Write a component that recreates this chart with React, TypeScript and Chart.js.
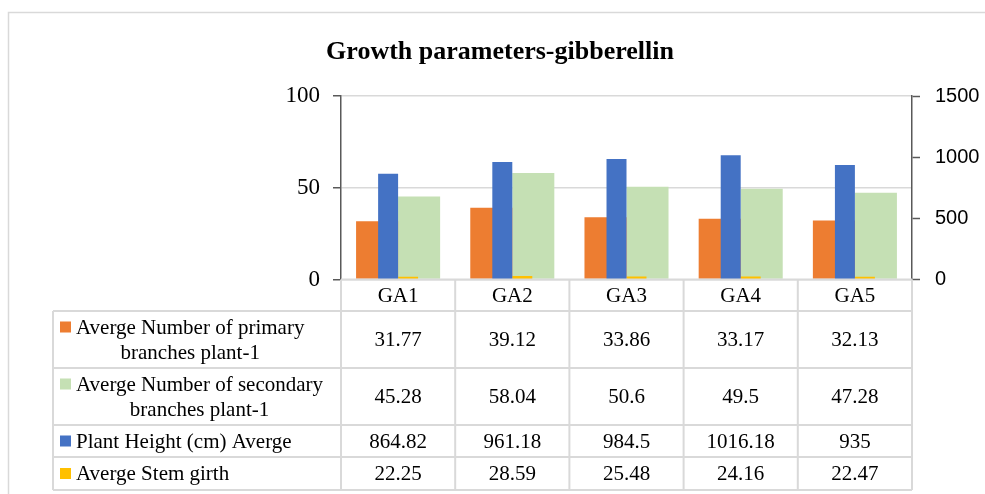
import React, { useEffect, useRef } from "react";
import { Chart, registerables } from "chart.js";

Chart.register(...registerables);

const chartTitle = "Growth parameters-gibberellin";
const categories = ["GA1", "GA2", "GA3", "GA4", "GA5"];
const primaryBranches = [31.77, 39.12, 33.86, 33.17, 32.13];
const secondaryBranches = [45.28, 58.04, 50.6, 49.5, 47.28];
const plantHeight = [864.82, 961.18, 984.5, 1016.18, 935];
const stemGirth = [22.25, 28.59, 25.48, 24.16, 22.47];
const primaryLabel = ["Averge Number of primary", "branches plant-1"];
const secondaryLabel = ["Averge Number of secondary", "branches plant-1"];
const heightLabel = ["Plant Height (cm) Averge"];
const girthLabel = ["Averge Stem girth"];
const leftAxisRange = [0, 100];
const leftAxisStep = 50;
const rightAxisRange = [0, 1500];
const rightAxisStep = 500;

const ORANGE = "#ED7D31";
const GREEN = "#C5E0B4";
const BLUE = "#4472C4";
const YELLOW = "#FFC000";
const GRID = "#d9d9d9";
const AXIS = "#595959";
const SERIF = "'Liberation Serif', 'Times New Roman', serif";
const SANS = "'Liberation Sans', Arial, sans-serif";

const tableRows = [
  { lines: primaryLabel, color: ORANGE, values: primaryBranches },
  { lines: secondaryLabel, color: GREEN, values: secondaryBranches },
  { lines: heightLabel, color: BLUE, values: plantHeight },
  { lines: girthLabel, color: YELLOW, values: stemGirth },
];

// layout constants (pixels)
const ROW_EDGES = [311, 368, 425, 457, 490];
const TABLE_LEFT = 53;
const LEGEND_TEXT_LEFT = 76;
const MARKER_SIZE = 11;

const tablePlugin = {
  id: "dataTable",
  beforeDraw(chart: any) {
    const ctx = chart.ctx;
    ctx.save();
    ctx.fillStyle = "#ffffff";
    ctx.fillRect(0, 0, chart.width, chart.height);
    ctx.strokeStyle = GRID;
    ctx.lineWidth = 1.5;
    ctx.beginPath();
    ctx.moveTo(8.5, chart.height + 2);
    ctx.lineTo(8.5, 12.5);
    ctx.lineTo(chart.width + 2, 12.5);
    ctx.stroke();
    // title
    ctx.fillStyle = "#000000";
    ctx.font = `bold 26px ${SERIF}`;
    ctx.textAlign = "center";
    ctx.textBaseline = "alphabetic";
    ctx.fillText(chartTitle, 500, 59);
    ctx.restore();
  },
  afterDraw(chart: any) {
    const ctx = chart.ctx;
    const area = chart.chartArea;
    const xs = chart.scales.x;
    const n = categories.length;
    const colW = (area.right - area.left) / n;
    const top = area.bottom;
    const bottom = ROW_EDGES[ROW_EDGES.length - 1];
    ctx.save();
    ctx.strokeStyle = GRID;
    ctx.lineWidth = 2;
    ctx.beginPath();
    ctx.moveTo(area.left, top);
    ctx.lineTo(area.right, top);
    for (const y of ROW_EDGES) {
      ctx.moveTo(TABLE_LEFT, y);
      ctx.lineTo(area.right, y);
    }
    ctx.moveTo(TABLE_LEFT, ROW_EDGES[0]);
    ctx.lineTo(TABLE_LEFT, bottom);
    for (let i = 0; i <= n; i++) {
      const x = area.left + i * colW;
      ctx.moveTo(x, top);
      ctx.lineTo(x, bottom);
    }
    ctx.stroke();

    ctx.fillStyle = "#000000";
    ctx.font = `21px ${SERIF}`;
    ctx.textAlign = "center";
    ctx.textBaseline = "middle";
    categories.forEach((c, i) => {
      ctx.fillText(c, xs.getPixelForValue(i), (top + ROW_EDGES[0]) / 2 + 1);
    });
    tableRows.forEach((row, r) => {
      const y0 = ROW_EDGES[r];
      const y1 = ROW_EDGES[r + 1];
      const cy = (y0 + y1) / 2 + 1;
      row.values.forEach((v, i) => {
        ctx.textAlign = "center";
        ctx.fillText(String(v), xs.getPixelForValue(i), cy);
      });
      const lh = 25;
      const widths = row.lines.map((l) => ctx.measureText(l).width);
      const maxW = Math.max(...widths);
      const centerX = LEGEND_TEXT_LEFT + maxW / 2;
      const firstY = cy - ((row.lines.length - 1) * lh) / 2;
      row.lines.forEach((l, k) => {
        ctx.textAlign = "center";
        ctx.fillText(l, centerX, firstY + k * lh);
      });
      const firstLineLeft = centerX - widths[0] / 2;
      ctx.fillStyle = row.color;
      ctx.fillRect(firstLineLeft - 16, firstY - MARKER_SIZE / 2 - 1, MARKER_SIZE, MARKER_SIZE);
      ctx.fillStyle = "#000000";
    });
    ctx.restore();
  },
};

export default function App() {
  const ref = useRef<HTMLCanvasElement | null>(null);
  useEffect(() => {
    if (!ref.current) return;
    const chart = new Chart(ref.current, {
      type: "bar",
      data: {
        labels: categories,
        datasets: [
          {
            label: primaryLabel.join(" "),
            data: primaryBranches,
            backgroundColor: ORANGE,
            yAxisID: "y",
            stack: "L",
            order: 1,
            categoryPercentage: 0.736,
            barPercentage: 1,
          },
          {
            label: secondaryLabel.join(" "),
            data: secondaryBranches,
            backgroundColor: GREEN,
            yAxisID: "y",
            stack: "R",
            order: 1,
            categoryPercentage: 0.736,
            barPercentage: 1,
          },
          {
            label: heightLabel.join(" "),
            data: plantHeight,
            backgroundColor: BLUE,
            yAxisID: "y1",
            stack: "L",
            order: 0,
            categoryPercentage: 0.35,
            barPercentage: 1,
          },
          {
            label: girthLabel.join(" "),
            data: stemGirth,
            backgroundColor: YELLOW,
            yAxisID: "y1",
            stack: "R",
            order: 0,
            categoryPercentage: 0.35,
            barPercentage: 1,
          },
        ] as any,
      },
      options: {
        animation: false,
        responsive: true,
        maintainAspectRatio: false,
        layout: { padding: { left: 0, right: 0, top: 96, bottom: 494 - 279.5 } },
        plugins: {
          legend: { display: false },
          tooltip: { enabled: false },
          title: { display: false },
        },
        scales: {
          x: { type: "category", display: false, offset: true, stacked: true },
          y: {
            type: "linear",
            position: "left",
            stacked: false,
            min: leftAxisRange[0],
            max: leftAxisRange[1],
            afterFit: (s: any) => {
              s.width = 341;
            },
            ticks: {
              stepSize: leftAxisStep,
              color: "#000000",
              font: { family: SERIF, size: 23 },
              padding: 13,
              callback: (v: any) => String(v),
            },
            grid: {
              color: GRID,
              lineWidth: 1.5,
              tickColor: AXIS,
              tickLength: 8,
              tickWidth: 1.5,
            },
            border: { color: AXIS, width: 1.5 },
          },
          y1: {
            type: "linear",
            position: "right",
            stacked: false,
            min: rightAxisRange[0],
            max: rightAxisRange[1],
            afterFit: (s: any) => {
              s.width = 73;
            },
            ticks: {
              stepSize: rightAxisStep,
              color: "#000000",
              font: { family: SANS, size: 20 },
              padding: 15,
              callback: (v: any) => String(v),
            },
            grid: {
              drawOnChartArea: false,
              tickColor: AXIS,
              tickLength: 8,
              tickWidth: 1.5,
            },
            border: { color: AXIS, width: 1.5 },
          },
        },
      } as any,
      plugins: [tablePlugin],
    });
    return () => chart.destroy();
  }, []);
  return (
    <div
      style={{
        position: "fixed",
        left: 0,
        top: 0,
        width: 985,
        height: 494,
        background: "#ffffff",
      }}
    >
      <canvas ref={ref} />
    </div>
  );
}
